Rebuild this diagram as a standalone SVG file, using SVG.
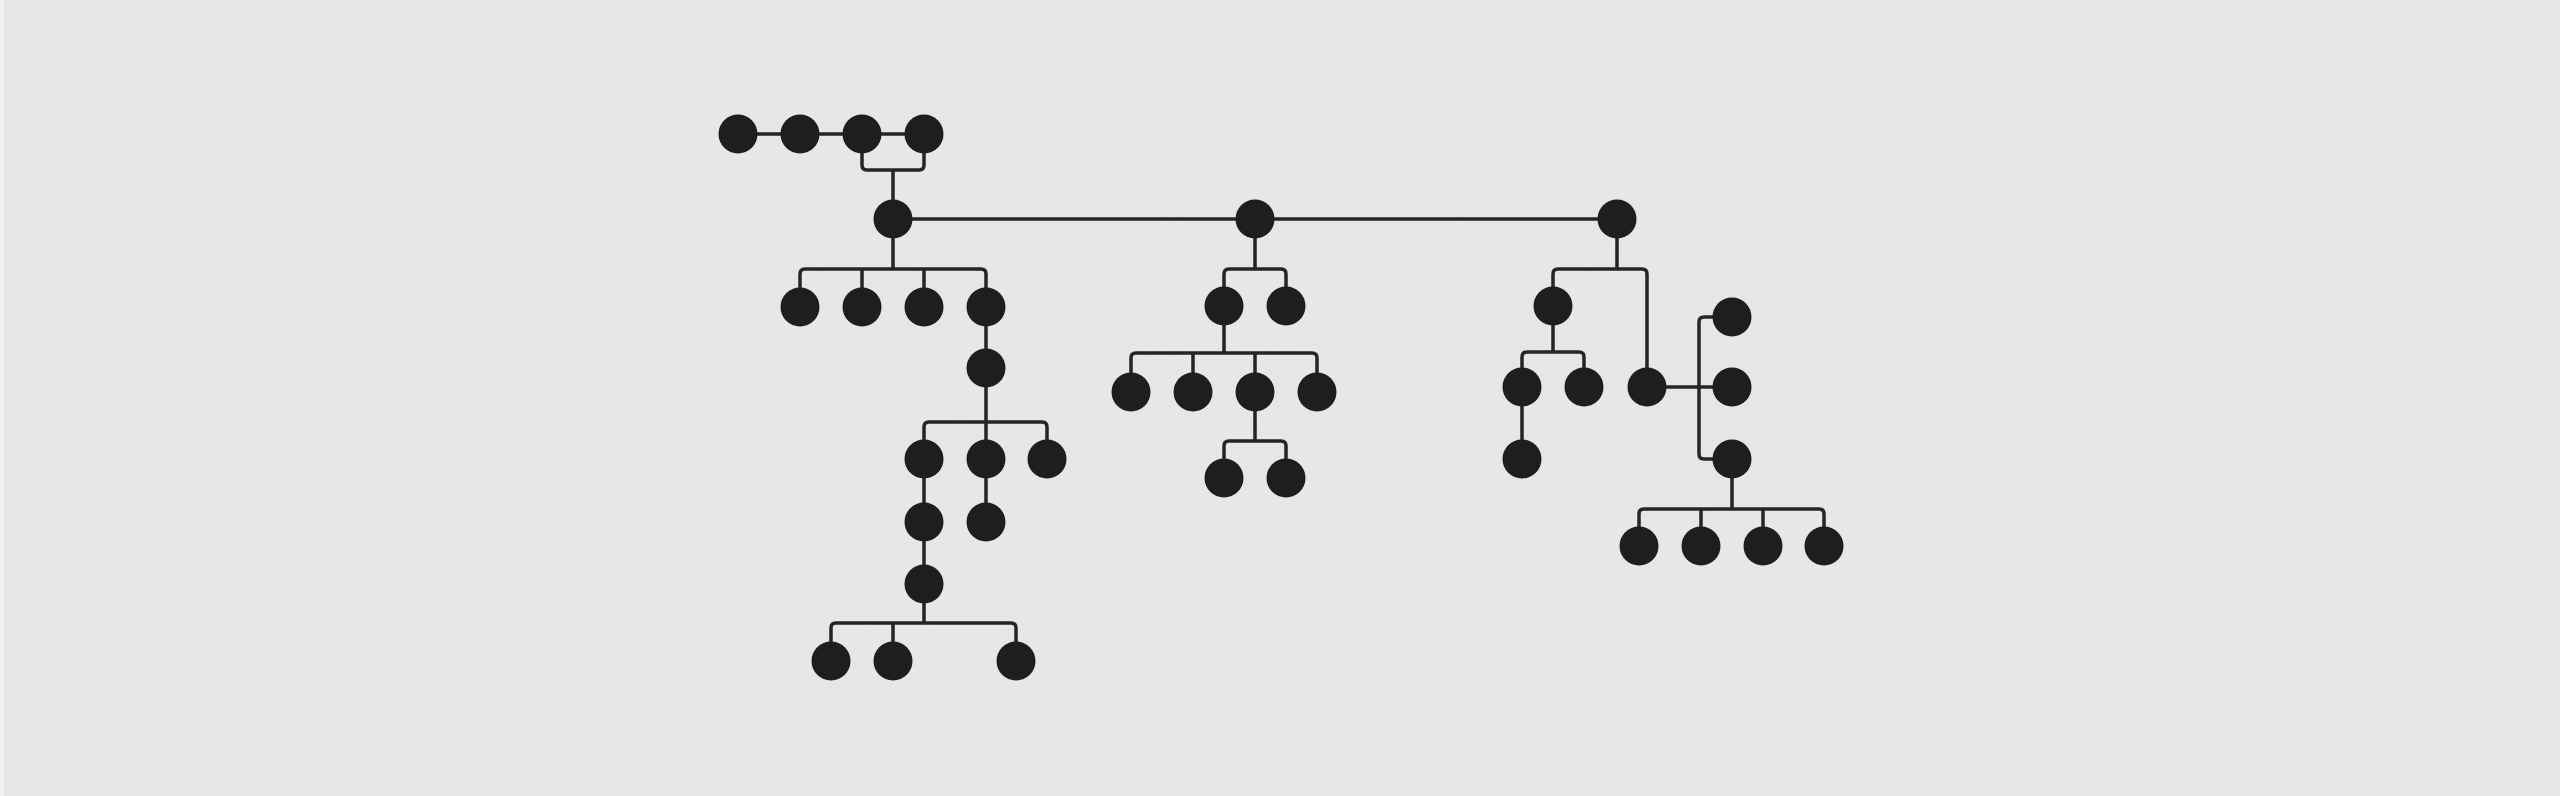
<svg xmlns="http://www.w3.org/2000/svg" width="2560" height="796" viewBox="0 0 2560 796">
  <style>
    .n { fill: #1f1e1e; }
    .c { fill: none; stroke: #262525; stroke-width: 3.5; stroke-linecap: butt; stroke-linejoin: round; }
  </style>
  <defs>
    <filter id="grain" x="0" y="0" width="100%" height="100%">
      <feTurbulence type="fractalNoise" baseFrequency="0.9" numOctaves="2" seed="4"/>
      <feColorMatrix type="matrix" values="0 0 0 0 0.5  0 0 0 0 0.5  0 0 0 0 0.5  0 0 0 0.06 0"/>
    </filter>
  </defs>
  <rect width="2560" height="796" fill="#e9e8e6"/>
  <rect width="2560" height="796" filter="url(#grain)"/>
  <rect x="0" y="0" width="4" height="796" fill="#f2f1ef"/>

  <g id="connectors">
    <path class="c" d="M738,134 H924"/>
    <path class="c" d="M862,134 V165 Q862,170 867,170 H919 Q924,170 924,165 V134 M893,170 V219"/>
    <path class="c" d="M893,219 H1617"/>
    <path class="c" d="M893,219 V269 M800,307 V274 Q800,269 805,269 H981 Q986,269 986,274 V307 M862,269 V307 M924,269 V307"/>
    <path class="c" d="M986,307 V422 M924,459 V427 Q924,422 929,422 H1042 Q1047,422 1047,427 V459 M986,422 V522"/>
    <path class="c" d="M924,459 V623 M831,661 V628 Q831,623 836,623 H1011 Q1016,623 1016,628 V661 M893,623 V661"/>
    <path class="c" d="M1255,219 V269 M1224,306 V274 Q1224,269 1229,269 H1281 Q1286,269 1286,274 V306"/>
    <path class="c" d="M1224,306 V353 M1131,392 V358 Q1131,353 1136,353 H1312 Q1317,353 1317,358 V392 M1193,353 V392 M1255,353 V441"/>
    <path class="c" d="M1224,478 V446 Q1224,441 1229,441 H1281 Q1286,441 1286,446 V478"/>
    <path class="c" d="M1617,219 V269 M1553,306 V274 Q1553,269 1558,269 H1642 Q1647,269 1647,274 V387"/>
    <path class="c" d="M1553,306 V352 M1522,387 V357 Q1522,352 1527,352 H1579 Q1584,352 1584,357 V387 M1522,387 V459"/>
    <path class="c" d="M1647,387 H1732 M1732,317 H1704 Q1699,317 1699,322 V454 Q1699,459 1704,459 H1732"/>
    <path class="c" d="M1732,459 V509 M1639,546 V514 Q1639,509 1644,509 H1819 Q1824,509 1824,514 V546 M1701,509 V546 M1763,509 V546"/>
  </g>

  <g id="n1"><circle class="n" cx="738" cy="134" r="19.5"/></g>
  <g id="n2"><circle class="n" cx="800" cy="134" r="19.5"/></g>
  <g id="n3"><circle class="n" cx="862" cy="134" r="19.5"/></g>
  <g id="n4"><circle class="n" cx="924" cy="134" r="19.5"/></g>
  <g id="n5"><circle class="n" cx="893" cy="219" r="19.5"/></g>
  <g id="n6"><circle class="n" cx="800" cy="307" r="19.5"/></g>
  <g id="n7"><circle class="n" cx="862" cy="307" r="19.5"/></g>
  <g id="n8"><circle class="n" cx="924" cy="307" r="19.5"/></g>
  <g id="n9"><circle class="n" cx="986" cy="307" r="19.5"/></g>
  <g id="n10"><circle class="n" cx="986" cy="368" r="19.5"/></g>
  <g id="n11"><circle class="n" cx="924" cy="459" r="19.5"/></g>
  <g id="n12"><circle class="n" cx="986" cy="459" r="19.5"/></g>
  <g id="n13"><circle class="n" cx="1047" cy="459" r="19.5"/></g>
  <g id="n14"><circle class="n" cx="924" cy="522" r="19.5"/></g>
  <g id="n15"><circle class="n" cx="986" cy="522" r="19.5"/></g>
  <g id="n16"><circle class="n" cx="924" cy="584" r="19.5"/></g>
  <g id="n17"><circle class="n" cx="831" cy="661" r="19.5"/></g>
  <g id="n18"><circle class="n" cx="893" cy="661" r="19.5"/></g>
  <g id="n19"><circle class="n" cx="1016" cy="661" r="19.5"/></g>

  <g id="m1"><circle class="n" cx="1255" cy="219" r="19.5"/></g>
  <g id="m2"><circle class="n" cx="1224" cy="306" r="19.5"/></g>
  <g id="m3"><circle class="n" cx="1286" cy="306" r="19.5"/></g>
  <g id="m4"><circle class="n" cx="1131" cy="392" r="19.5"/></g>
  <g id="m5"><circle class="n" cx="1193" cy="392" r="19.5"/></g>
  <g id="m6"><circle class="n" cx="1255" cy="392" r="19.5"/></g>
  <g id="m7"><circle class="n" cx="1317" cy="392" r="19.5"/></g>
  <g id="m8"><circle class="n" cx="1224" cy="478" r="19.5"/></g>
  <g id="m9"><circle class="n" cx="1286" cy="478" r="19.5"/></g>

  <g id="r1"><circle class="n" cx="1617" cy="219" r="19.5"/></g>
  <g id="r2"><circle class="n" cx="1553" cy="306" r="19.5"/></g>
  <g id="r3"><circle class="n" cx="1522" cy="387" r="19.5"/></g>
  <g id="r4"><circle class="n" cx="1584" cy="387" r="19.5"/></g>
  <g id="r5"><circle class="n" cx="1522" cy="459" r="19.5"/></g>
  <g id="r6"><circle class="n" cx="1647" cy="387" r="19.5"/></g>
  <g id="r7"><circle class="n" cx="1732" cy="317" r="19.5"/></g>
  <g id="r8"><circle class="n" cx="1732" cy="387" r="19.5"/></g>
  <g id="r9"><circle class="n" cx="1732" cy="459" r="19.5"/></g>
  <g id="r10"><circle class="n" cx="1639" cy="546" r="19.5"/></g>
  <g id="r11"><circle class="n" cx="1701" cy="546" r="19.5"/></g>
  <g id="r12"><circle class="n" cx="1763" cy="546" r="19.5"/></g>
  <g id="r13"><circle class="n" cx="1824" cy="546" r="19.5"/></g>
</svg>
